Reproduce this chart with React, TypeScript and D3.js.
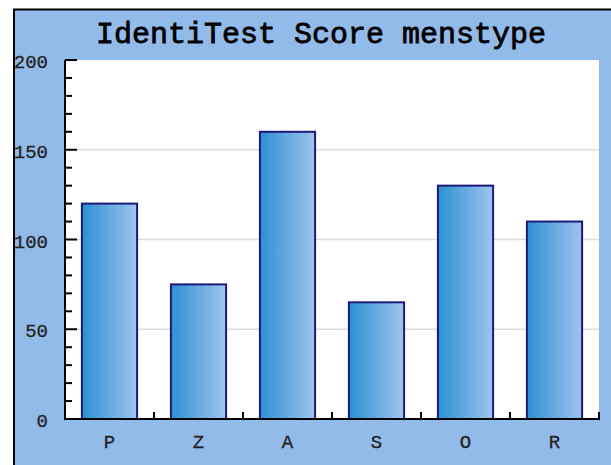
import React from "react";
import * as d3 from "d3";

const title = "IdentiTest Score menstype";
const categories = ["P", "Z", "A", "S", "O", "R"];
const values = [120, 75, 160, 65, 130, 110];
const yMajorTicks = [0, 50, 100, 150, 200];
const yGridTicks = [50, 100, 150];

const W = 611;
const H = 465;
const plotLeft = 65;
const plotRight = 599;
const plotTop = 60;
const plotBottom = 419;
const FONT = "'Liberation Mono', 'DejaVu Sans Mono', monospace";

export default function App() {
  const x = d3
    .scaleBand<string>()
    .domain(categories)
    .range([plotLeft, plotRight])
    .paddingInner(0.38)
    .paddingOuter(0.19);
  const y = d3.scaleLinear().domain([0, 200]).range([plotBottom, plotTop]);
  const minorTicks = d3.range(0, 201, 10).filter((v) => v % 50 !== 0);
  const step = x.step();
  const boundaries = categories.map(
    (c) => (x(c) as number) - x.paddingOuter() * step + step
  );

  return (
    <svg
      width={W}
      height={H}
      style={{ position: "absolute", left: 0, top: 0, background: "#ffffff" }}
    >
      <defs>
        <linearGradient id="barGrad" x1="0" y1="0" x2="1" y2="0">
          <stop offset="0%" stopColor="#2c90d3" />
          <stop offset="100%" stopColor="#a0c4ee" />
        </linearGradient>
      </defs>
      <rect
        x={14}
        y={9.5}
        width={W + 20}
        height={H + 20}
        fill="#93bbe9"
        stroke="#000000"
        strokeWidth={2}
      />
      <text
        x={321}
        y={43}
        textAnchor="middle"
        fontFamily={FONT}
        fontSize={30}
        fill="#000000"
        stroke="#000000"
        strokeWidth={0.8}
      >
        {title}
      </text>
      <rect
        x={plotLeft}
        y={plotTop}
        width={plotRight - plotLeft}
        height={plotBottom - plotTop}
        fill="#ffffff"
      />
      {yGridTicks.map((t) => (
        <line
          key={"g" + t}
          x1={plotLeft}
          x2={plotRight}
          y1={y(t)}
          y2={y(t)}
          stroke="#dedede"
          strokeWidth={1.5}
        />
      ))}
      {categories.map((c, i) => (
        <rect
          key={c}
          x={x(c)}
          y={y(values[i])}
          width={x.bandwidth()}
          height={plotBottom - y(values[i])}
          fill="url(#barGrad)"
          stroke="#1c1c78"
          strokeWidth={2}
        />
      ))}
      {minorTicks.map((t) => (
        <line
          key={"m" + t}
          x1={plotLeft}
          x2={plotLeft + 7}
          y1={y(t)}
          y2={y(t)}
          stroke="#000"
          strokeWidth={2}
        />
      ))}
      {yMajorTicks.map((t) => (
        <line
          key={"M" + t}
          x1={plotLeft}
          x2={plotLeft + 12}
          y1={y(t)}
          y2={y(t)}
          stroke="#000"
          strokeWidth={2}
        />
      ))}
      {boundaries.map((b, i) => (
        <line
          key={"b" + i}
          x1={b}
          x2={b}
          y1={plotBottom}
          y2={plotBottom - 7}
          stroke="#000"
          strokeWidth={2}
        />
      ))}
      <line x1={plotLeft} x2={plotLeft} y1={plotTop} y2={plotBottom + 1} stroke="#000" strokeWidth={2} />
      <line x1={plotLeft} x2={plotRight + 1} y1={plotBottom} y2={plotBottom} stroke="#000" strokeWidth={2} />
      {yMajorTicks.map((t) => (
        <text
          key={"l" + t}
          x={48}
          y={y(t) + 8}
          textAnchor="end"
          fontFamily={FONT}
          fontSize={19}
          fill="#222"
          stroke="#222"
          strokeWidth={0.3}
        >
          {t}
        </text>
      ))}
      {categories.map((c) => (
        <text
          key={"x" + c}
          x={(x(c) as number) + x.bandwidth() / 2}
          y={448}
          textAnchor="middle"
          fontFamily={FONT}
          fontSize={19}
          fill="#222"
          stroke="#222"
          strokeWidth={0.3}
        >
          {c}
        </text>
      ))}
    </svg>
  );
}
